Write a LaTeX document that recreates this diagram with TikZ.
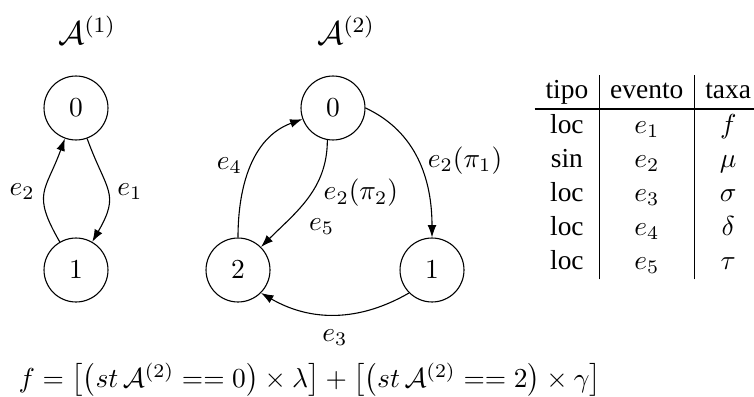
\documentclass[tikz,border=0pt]{standalone}
\usepackage{amsmath,amssymb}
\usepackage{fontspec}
\newfontfamily\tabfont{Liberation Serif}
\usetikzlibrary{arrows.meta, positioning}
\tikzset{
  estado/.style={
    circle, draw, minimum size=23.3pt, inner sep=0pt
  },
  transicao/.style={-{Latex[length=4.5pt, width=3.2pt]}, thin},
  titulo/.style={font=\large}
}

\begin{document}
\begin{tikzpicture}[x=0.0128cm, y=0.0128cm]
  \useasboundingbox (0,0) rectangle (754,-396);
  % ── Automato A(1) ────────────────────────────────────────────────
  \node[titulo] (tit1) at (87,-30) {$\mathcal{A}^{(1)}$};
  \node[estado] (b0) at (76,-108) {$0$};
  \node[estado] (b1) at (76,-270) {$1$};

  \draw[transicao] (b0) to[out=-70, in=60, looseness=1.4]
    node[right] {$e_1$} (b1);
  \draw[transicao] (b1) to[out=120, in=-110, looseness=1.4]
    node[left] {$e_2$} (b0);

  % ── Automato A(2) ────────────────────────────────────────────────
  \node[titulo] (tit2) at (346,-30) {$\mathcal{A}^{(2)}$};
  \node[estado] (a0) at (333,-108) {$0$};
  \node[estado] (a1) at (432,-270) {$1$};
  \node[estado] (a2) at (238,-270) {$2$};

  \draw[transicao] (a0.east) to[out=-25, in=90]
    node[right] {$e_2(\pi_1)$} (a1.north);
  \draw[transicao] (a0.-100) to[out=-90, in=45]
    node[pos=0.4, right, yshift=-1.5pt] {$e_2(\pi_2)$}
    node[pos=0.6, below right] {$e_5$} (a2);
  \draw[transicao] (a2.north) to[out=90, in=200]
    node[left] {$e_4$} (a0);
  \draw[transicao] (a1.-135) to[out=-150, in=-30]
    node[below=2pt] {$e_3$} (a2.-45);

  % ── Tabela de eventos ────────────────────────────────────────────
  \node[anchor=north west, inner sep=0pt] (tabela) at (534,-74) {%
    \tabfont\setlength{\tabcolsep}{4pt}%
    \renewcommand{\arraystretch}{1.03}%
    \begin{tabular}{c|c|c}
      tipo & evento & taxa \\ \hline
      loc & $e_1$ & $f$ \\
      sin & $e_2$ & $\mu$ \\
      loc & $e_3$ & $\sigma$ \\
      loc & $e_4$ & $\delta$ \\
      loc & $e_5$ & $\tau$
    \end{tabular}};

  % ── Taxa f ───────────────────────────────────────────────────────
  \node[anchor=base west, inner sep=0pt] (formula) at (18,-387)
    {$f=\bigl[\bigl(st\,\mathcal{A}^{(2)}==0\bigr)\times\lambda\bigr]
      +\bigl[\bigl(st\,\mathcal{A}^{(2)}==2\bigr)\times\gamma\bigr]$};
\end{tikzpicture}
\end{document}
